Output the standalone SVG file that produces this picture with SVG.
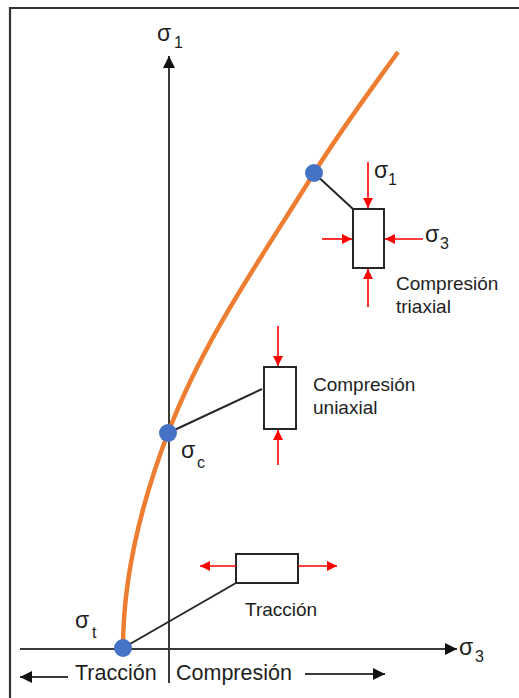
<svg xmlns="http://www.w3.org/2000/svg" width="519" height="698" viewBox="0 0 519 698">
<style>
.t{font-family:"Liberation Sans",Arial,sans-serif;fill:#1e1e1e}
.lbl{font-size:19px}
.big{font-size:21.5px}
.sig{font-size:23px}
.sub{font-size:16px}
.ax{stroke:#3a3a3a;stroke-width:2;fill:none}
.con{stroke:#262626;stroke-width:2;fill:none}
.red{stroke:#ff0000;stroke-width:1.6;fill:none}
.box{fill:#ffffff;stroke:#262626;stroke-width:2}
.pt{fill:#4472c4}
</style>
<defs>
<marker id="ah" markerUnits="userSpaceOnUse" markerWidth="14" markerHeight="12" refX="12" refY="6" orient="auto">
<path d="M0,0 L12,6 L0,12 z" fill="#111"/>
</marker>
<marker id="rh" markerUnits="userSpaceOnUse" markerWidth="12" markerHeight="10" refX="10" refY="5" orient="auto">
<path d="M0,0 L10,5 L0,10 z" fill="#ff0000"/>
</marker>
</defs>
<rect width="519" height="698" fill="#ffffff"/>
<g id="frame">
<path d="M10,698 V8 H519" stroke="#333" stroke-width="2.2" fill="none"/>
</g>
<g id="axes">
<line class="ax" x1="169" y1="683" x2="169" y2="56" marker-end="url(#ah)"/>
<line class="ax" x1="20" y1="649" x2="457" y2="649" marker-end="url(#ah)"/>
<line class="ax" x1="68" y1="677" x2="20" y2="677" marker-end="url(#ah)"/>
<line class="ax" x1="305" y1="674" x2="385" y2="674" marker-end="url(#ah)"/>
<text class="t sig" x="157" y="41">σ</text><text class="t sub" x="174" y="48">1</text>
<text class="t sig" x="459" y="655">σ</text><text class="t sub" x="475" y="662">3</text>
<text class="t big" x="75" y="680">Tracción</text>
<text class="t big" x="176" y="680">Compresión</text>
</g>
<g id="curve">
<path d="M123,648 C123,576 140.6,505 168,433 C203.5,339.5 261.3,258 314,173 C339.8,131.4 369.4,91.8 398,52" stroke="#ed7d31" stroke-width="4.5" fill="none"/>
</g>
<g id="connectors">
<line class="con" x1="314" y1="173" x2="353" y2="209"/>
<line class="con" x1="168" y1="433" x2="262" y2="389"/>
<line class="con" x1="123" y1="648" x2="236" y2="583"/>
</g>
<g id="point-t">
<circle class="pt" cx="123" cy="648" r="9"/>
<text class="t sig" x="75" y="628">σ</text><text class="t sub" x="92" y="638">t</text>
</g>
<g id="point-c">
<circle class="pt" cx="168" cy="433" r="9"/>
<text class="t sig" x="181" y="458">σ</text><text class="t sub" x="197" y="468">c</text>
</g>
<g id="point-1">
<circle class="pt" cx="314" cy="173" r="9"/>
</g>
<g id="triaxial">
<rect class="box" x="353" y="209" width="31" height="59"/>
<line class="red" x1="368" y1="162" x2="368" y2="208" marker-end="url(#rh)"/>
<line class="red" x1="368" y1="307" x2="368" y2="269" marker-end="url(#rh)"/>
<line class="red" x1="322" y1="239" x2="352" y2="239" marker-end="url(#rh)"/>
<line class="red" x1="423" y1="239" x2="385" y2="239" marker-end="url(#rh)"/>
<text class="t sig" x="374" y="178">σ</text><text class="t sub" x="388" y="185">1</text>
<text class="t sig" x="425" y="242">σ</text><text class="t sub" x="440" y="249">3</text>
<text class="t lbl" x="396" y="290">Compresión</text>
<text class="t lbl" x="396" y="313">triaxial</text>
</g>
<g id="uniaxial">
<rect class="box" x="264" y="367" width="32" height="62"/>
<line class="red" x1="278" y1="326" x2="278" y2="366" marker-end="url(#rh)"/>
<line class="red" x1="278" y1="465" x2="278" y2="430" marker-end="url(#rh)"/>
<text class="t lbl" x="313" y="391">Compresión</text>
<text class="t lbl" x="313" y="414">uniaxial</text>
</g>
<g id="traccion">
<rect class="box" x="236" y="554" width="62" height="29"/>
<line class="red" x1="236" y1="566" x2="200" y2="566" marker-end="url(#rh)"/>
<line class="red" x1="298" y1="566" x2="337" y2="566" marker-end="url(#rh)"/>
<text class="t lbl" x="245" y="616">Tracción</text>
</g>
</svg>
